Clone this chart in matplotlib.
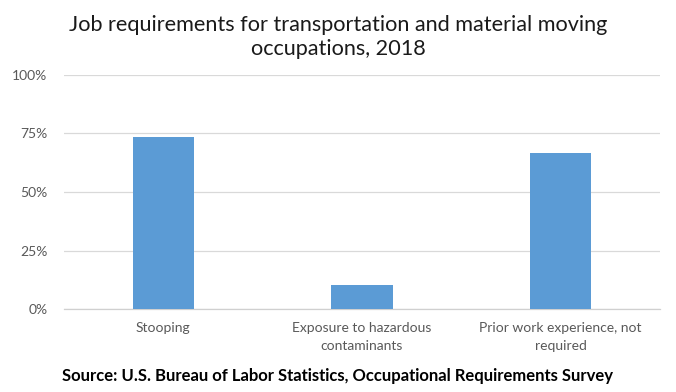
import numpy as np
import matplotlib.pyplot as plt
from matplotlib.ticker import PercentFormatter

categories = ['Stooping', 'Exposure to hazardous\ncontaminants', 'Prior work experience, not\nrequired']
values = [0.736, 0.103, 0.668]
yticks = [0, 0.25, 0.5, 0.75, 1.0]

plt.rcParams['font.family'] = ['Lato', 'DejaVu Sans']

fig = plt.figure(figsize=(6.76, 3.92), dpi=100)
ax = fig.add_axes([0.0947, 0.2117, 0.8813, 0.597])

x = np.arange(len(categories))
ax.bar(x, values, width=0.31, color='#5B9BD5', zorder=3)

ax.set_xlim(-0.5, len(categories) - 0.5)
ax.set_ylim(0, 1.0)
ax.set_yticks(yticks)
ax.yaxis.set_major_formatter(PercentFormatter(1.0, decimals=0))
ax.set_xticks(x)
ax.set_xticklabels(categories, fontsize=10, color='#595959', linespacing=1.6)
ax.tick_params(axis='y', labelsize=10, labelcolor='#595959', length=0, pad=12)
ax.tick_params(axis='x', length=0, pad=9)
ax.grid(axis='y', color='#d9d9d9', linewidth=0.9, zorder=0)

for s in ['top', 'right', 'left']:
    ax.spines[s].set_visible(False)
ax.spines['bottom'].set_color('#d0d0d0')
ax.spines['bottom'].set_linewidth(0.9)

fig.text(0.5, 0.905, 'Job requirements for transportation and material moving\noccupations, 2018',
         ha='center', va='center', fontsize=15.6, color='#1a1a1a', linespacing=1.28)
fig.text(0.5, 0.04, 'Source: U.S. Bureau of Labor Statistics, Occupational Requirements Survey',
         ha='center', va='center', fontsize=12, fontweight='bold', color='black')

fig.savefig('out.png', dpi=100)
